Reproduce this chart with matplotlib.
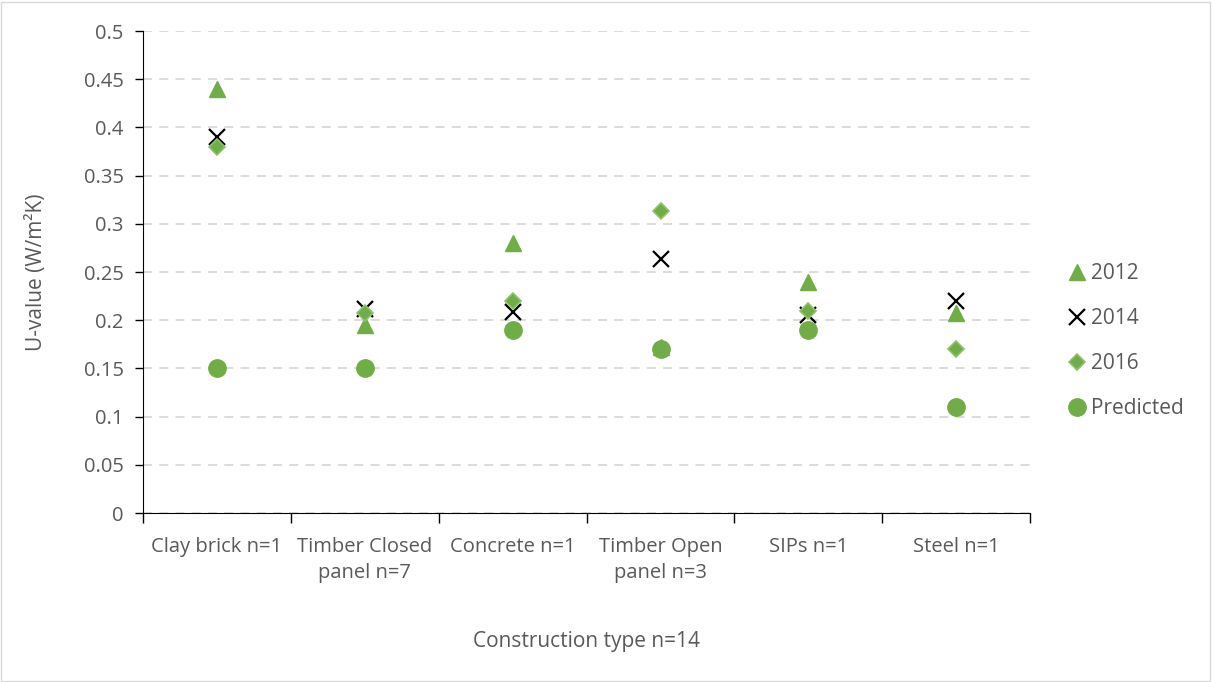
import matplotlib.pyplot as plt
from matplotlib.patches import Rectangle

plt.rcParams['font.family'] = ['Open Sans', 'DejaVu Sans']

categories = ['Clay brick n=1', 'Timber Closed\npanel n=7', 'Concrete n=1',
              'Timber Open\npanel n=3', 'SIPs n=1', 'Steel n=1']
u_2012 = [0.44, 0.195, 0.28, 0.172, 0.24, 0.208]
u_2014 = [0.39, 0.212, 0.209, 0.263, 0.205, 0.22]
u_2016 = [0.38, 0.207, 0.22, 0.313, 0.21, 0.17]
u_pred = [0.15, 0.15, 0.19, 0.17, 0.19, 0.11]

green = '#70AD47'
grey_txt = '#595959'

fig = plt.figure(figsize=(12.12, 6.82), dpi=100)
ax = fig.add_axes([0.118, 0.2478, 0.732, 0.7067])

x = [i + 0.5 for i in range(len(categories))]
ax.plot(x, u_2012, linestyle='none', marker='^', markersize=12, color=green, label='2012', zorder=3)
ax.plot(x, u_2014, linestyle='none', marker='x', markersize=11, markeredgewidth=1.6, color='black', label='2014', zorder=4)
ax.plot(x, u_2016, linestyle='none', marker='D', markersize=8.5, color=green,
        markeredgecolor='#8FC16A', markeredgewidth=1.2, label='2016', zorder=5)
ax.plot(x, u_pred, linestyle='none', marker='o', markersize=12.5, color=green, label='Predicted', zorder=6)

ax.set_xlim(0, len(categories))
ax.set_ylim(0, 0.5)
ax.set_yticks([i * 0.05 for i in range(11)])
ax.set_yticklabels(['0', '0.05', '0.1', '0.15', '0.2', '0.25', '0.3', '0.35', '0.4', '0.45', '0.5'])
ax.set_xticks(range(len(categories) + 1))
ax.set_xticklabels([])
ax.set_xticks(x, minor=True)
ax.set_xticklabels(categories, minor=True, linespacing=1.45)
ax.tick_params(axis='x', which='minor', length=0, pad=17, labelsize=14.5, labelcolor=grey_txt)
ax.tick_params(axis='x', which='major', length=7, width=1, direction='out')
ax.tick_params(axis='y', length=6, width=1, direction='out', labelsize=14.5, labelcolor=grey_txt, pad=8)

ax.yaxis.grid(True, linestyle=(0, (5, 4)), color='#D9D9D9', linewidth=1.3)
ax.set_axisbelow(True)
for s in ['top', 'right']:
    ax.spines[s].set_visible(False)
ax.spines['left'].set_color('black')
ax.spines['bottom'].set_color('black')

ax.set_ylabel('U-value (W/m²K)', fontsize=15, color=grey_txt, labelpad=26)
ax.set_xlabel('Construction type n=14', fontsize=15, color=grey_txt, labelpad=34)

leg = ax.legend(loc='center left', bbox_to_anchor=(1.018, 0.357), frameon=False,
                fontsize=15, labelspacing=1.15, handletextpad=0.05, handlelength=1.2)
for t in leg.get_texts():
    t.set_color(grey_txt)

fig.patches.append(Rectangle((0.001, 0.002), 0.997, 0.995, transform=fig.transFigure,
                             fill=False, edgecolor='#D9D9D9', linewidth=1))

fig.savefig('out.png', dpi=100)
